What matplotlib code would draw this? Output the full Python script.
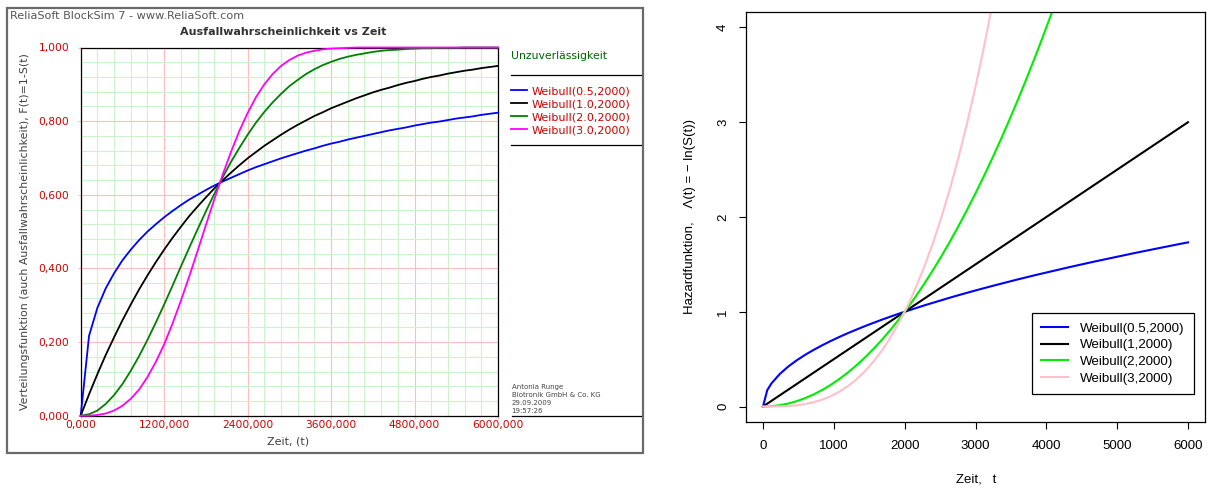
import matplotlib
matplotlib.use("Agg")
import matplotlib.pyplot as plt
from matplotlib.ticker import FixedLocator, FixedFormatter, MultipleLocator
from matplotlib.lines import Line2D
from matplotlib.patches import Rectangle

# ---------------------------------------------------------------------------
# Data
# ---------------------------------------------------------------------------
# time grid for the unreliability panel
t_cdf = [0, 120, 240, 360, 480, 600, 720, 840, 960, 1080, 1200, 1320, 1440,
         1560, 1680, 1800, 1920, 2040, 2160, 2280, 2400, 2520, 2640, 2760,
         2880, 3000, 3120, 3240, 3360, 3480, 3600, 3720, 3840, 3960, 4080,
         4200, 4320, 4440, 4560, 4680, 4800, 4920, 5040, 5160, 5280, 5400,
         5520, 5640, 5760, 5880, 6000]

F_b05 = [0.000, 0.217, 0.293, 0.346, 0.387, 0.422, 0.451, 0.477, 0.500, 0.520,
         0.539, 0.556, 0.572, 0.587, 0.600, 0.613, 0.625, 0.636, 0.646, 0.656,
         0.666, 0.675, 0.683, 0.691, 0.699, 0.706, 0.713, 0.720, 0.726, 0.733,
         0.739, 0.744, 0.750, 0.755, 0.760, 0.765, 0.770, 0.775, 0.779, 0.783,
         0.788, 0.792, 0.796, 0.799, 0.803, 0.807, 0.810, 0.813, 0.817, 0.820,
         0.823]
F_b10 = [0.000, 0.058, 0.113, 0.165, 0.213, 0.259, 0.302, 0.343, 0.381, 0.417,
         0.451, 0.483, 0.513, 0.542, 0.568, 0.593, 0.617, 0.639, 0.660, 0.680,
         0.699, 0.716, 0.733, 0.748, 0.763, 0.777, 0.790, 0.802, 0.814, 0.824,
         0.835, 0.844, 0.853, 0.862, 0.870, 0.878, 0.885, 0.891, 0.898, 0.904,
         0.909, 0.915, 0.920, 0.924, 0.929, 0.933, 0.937, 0.940, 0.944, 0.947,
         0.950]
F_b20 = [0.000, 0.004, 0.014, 0.032, 0.056, 0.086, 0.122, 0.162, 0.206, 0.253,
         0.302, 0.353, 0.405, 0.456, 0.506, 0.555, 0.602, 0.647, 0.689, 0.727,
         0.763, 0.796, 0.825, 0.851, 0.874, 0.895, 0.912, 0.928, 0.941, 0.952,
         0.961, 0.969, 0.975, 0.980, 0.984, 0.988, 0.991, 0.993, 0.994, 0.996,
         0.997, 0.998, 0.998, 0.999, 0.999, 0.999, 1.000, 1.000, 1.000, 1.000,
         1.000]
F_b30 = [0.000, 0.000, 0.002, 0.006, 0.014, 0.027, 0.046, 0.071, 0.105, 0.146,
         0.194, 0.250, 0.312, 0.378, 0.447, 0.518, 0.587, 0.654, 0.716, 0.773,
         0.822, 0.865, 0.900, 0.928, 0.950, 0.966, 0.978, 0.986, 0.991, 0.995,
         0.997, 0.998, 0.999, 1.000, 1.000, 1.000, 1.000, 1.000, 1.000, 1.000,
         1.000, 1.000, 1.000, 1.000, 1.000, 1.000, 1.000, 1.000, 1.000, 1.000,
         1.000]

cdf_labels = ["Weibull(0.5,2000)", "Weibull(1.0,2000)",
              "Weibull(2.0,2000)", "Weibull(3.0,2000)"]
cdf_xticks = [0, 1200, 2400, 3600, 4800, 6000]
cdf_xticklabels = ["0,000", "1200,000", "2400,000", "3600,000", "4800,000", "6000,000"]
cdf_yticks = [0.0, 0.2, 0.4, 0.6, 0.8, 1.0]
cdf_yticklabels = ["0,000", "0,200", "0,400", "0,600", "0,800", "1,000"]

# time grid for the cumulative hazard panel
t_haz = [0, 60, 120, 240, 360, 480, 600, 720, 840, 960, 1080, 1200, 1320,
         1440, 1560, 1680, 1800, 1920, 2040, 2160, 2280, 2400, 2520, 2640,
         2760, 2880, 3000, 3120, 3240, 3360, 3480, 3600, 3720, 3840, 3960,
         4080, 4200, 4320, 4440, 4560, 4680, 4800, 4920, 5040, 5160, 5280,
         5400, 5520, 5640, 5760, 5880, 6000]

H_b05 = [0.000, 0.173, 0.245, 0.346, 0.424, 0.490, 0.548, 0.600, 0.648, 0.693,
         0.735, 0.775, 0.812, 0.849, 0.883, 0.917, 0.949, 0.980, 1.010, 1.039,
         1.068, 1.095, 1.122, 1.149, 1.175, 1.200, 1.225, 1.249, 1.273, 1.296,
         1.319, 1.342, 1.364, 1.386, 1.407, 1.428, 1.449, 1.470, 1.490, 1.510,
         1.530, 1.549, 1.568, 1.587, 1.606, 1.625, 1.643, 1.661, 1.679, 1.697,
         1.715, 1.732]
H_b1 = [0.00, 0.03, 0.06, 0.12, 0.18, 0.24, 0.30, 0.36, 0.42, 0.48, 0.54, 0.60,
        0.66, 0.72, 0.78, 0.84, 0.90, 0.96, 1.02, 1.08, 1.14, 1.20, 1.26, 1.32,
        1.38, 1.44, 1.50, 1.56, 1.62, 1.68, 1.74, 1.80, 1.86, 1.92, 1.98, 2.04,
        2.10, 2.16, 2.22, 2.28, 2.34, 2.40, 2.46, 2.52, 2.58, 2.64, 2.70, 2.76,
        2.82, 2.88, 2.94, 3.00]
H_b2 = [0.0000, 0.0009, 0.0036, 0.0144, 0.0324, 0.0576, 0.0900, 0.1296, 0.1764,
        0.2304, 0.2916, 0.3600, 0.4356, 0.5184, 0.6084, 0.7056, 0.8100, 0.9216,
        1.0404, 1.1664, 1.2996, 1.4400, 1.5876, 1.7424, 1.9044, 2.0736, 2.2500,
        2.4336, 2.6244, 2.8224, 3.0276, 3.2400, 3.4596, 3.6864, 3.9204, 4.1616,
        4.4100, 4.6656, 4.9284, 5.1984, 5.4756, 5.7600, 6.0516, 6.3504, 6.6564,
        6.9696, 7.2900, 7.6176, 7.9524, 8.2944, 8.6436, 9.0000]
H_b3 = [0.0000, 0.0000, 0.0002, 0.0017, 0.0058, 0.0138, 0.0270, 0.0467, 0.0741,
        0.1106, 0.1575, 0.2160, 0.2875, 0.3732, 0.4746, 0.5927, 0.7290, 0.8847,
        1.0612, 1.2597, 1.4815, 1.7280, 2.0004, 2.3000, 2.6281, 2.9860, 3.3750,
        3.7964, 4.2515, 4.7416, 5.2680, 5.8320, 6.4349, 7.0779, 7.7624, 8.4897,
        9.2610, 10.0777, 10.9410, 11.8524, 12.8129, 13.8240, 14.8869, 16.0030,
        17.1735, 18.3997, 19.6830, 21.0246, 22.4258, 23.8879, 25.4122, 27.0000]

haz_labels = ["Weibull(0.5,2000)", "Weibull(1,2000)",
              "Weibull(2,2000)", "Weibull(3,2000)"]
haz_xticks = [0, 1000, 2000, 3000, 4000, 5000, 6000]
haz_yticks = [0, 1, 2, 3, 4]

# ---------------------------------------------------------------------------
# Figure
# ---------------------------------------------------------------------------
W, H = 1207, 488
fig = plt.figure(figsize=(W / 100, H / 100), dpi=100)
fig.patch.set_facecolor("white")


def fx(px):
    return px / W


def fy(py):
    return 1 - py / H


# ----- left panel: unreliability (ReliaSoft style) -------------------------
plt.rcParams["font.family"] = ["DejaVu Sans"]
red_txt = "#d00000"
dark_txt = "#404040"

# outer frame of the report panel
fig.add_artist(Rectangle((fx(7), fy(453)), fx(643) - fx(7), fy(8) - fy(453),
                         transform=fig.transFigure, fill=False,
                         edgecolor="#6a6a6a", linewidth=1.6))

ax1 = fig.add_axes([fx(80.7), fy(415.7), fx(498) - fx(80.7), fy(47.5) - fy(415.7)])
ax1.set_xlim(0, 6000)
ax1.set_ylim(0, 1)
ax1.xaxis.set_major_locator(FixedLocator(cdf_xticks))
ax1.xaxis.set_major_formatter(FixedFormatter(cdf_xticklabels))
ax1.yaxis.set_major_locator(FixedLocator(cdf_yticks))
ax1.yaxis.set_major_formatter(FixedFormatter(cdf_yticklabels))
ax1.xaxis.set_minor_locator(MultipleLocator(240))
ax1.yaxis.set_minor_locator(MultipleLocator(0.04))
ax1.set_axisbelow(True)
ax1.grid(which="minor", color="#ccf3cc", linewidth=0.8)
ax1.grid(which="major", color="#ffbdbd", linewidth=0.8)
ax1.tick_params(which="minor", length=0)
ax1.tick_params(axis="x", which="major", length=2.2, color="#ffbdbd",
                labelcolor=red_txt, labelsize=7.7, pad=1.2)
ax1.tick_params(axis="y", which="major", length=2.2, color="#ffbdbd",
                labelcolor=red_txt, labelsize=7.7, pad=6.0)
for s in ax1.spines.values():
    s.set_color("black")
    s.set_linewidth(0.9)

cdf_series = [F_b05, F_b10, F_b20, F_b30]
cdf_colors = ["#0000ff", "#000000", "#008000", "#ff00ff"]
for vals, col in zip(cdf_series, cdf_colors):
    ax1.plot(t_cdf, vals, color=col, linewidth=1.3, clip_on=False, zorder=3)

fig.text(fx(10), fy(16), "ReliaSoft BlockSim 7 - www.ReliaSoft.com",
         fontsize=8.1, color="#555555", ha="left", va="center")
fig.text(fx(283), fy(32), "Ausfallwahrscheinlichkeit vs Zeit",
         fontsize=8.0, fontweight="bold", color="#333333", ha="center", va="center")
fig.text(fx(25), fy(231.5),
         "Verteilungsfunktion (auch Ausfallwahrscheinlichkeit), F(t)=1-S(t)",
         fontsize=7.9, color=dark_txt, rotation=90, ha="center", va="center")
fig.text(fx(288), fy(441), "Zeit, (t)", fontsize=8.0, color=dark_txt,
         ha="center", va="center")

# side legend
fig.text(fx(511.5), fy(56), "Unzuverlässigkeit", fontsize=7.8, color="#006400",
         ha="left", va="center")
fig.add_artist(Line2D([fx(511), fx(641)], [fy(75), fy(75)],
                      color="black", linewidth=0.9))
for i, (lab, col) in enumerate(zip(cdf_labels, cdf_colors)):
    yy = 90 + i * 13.1
    fig.add_artist(Line2D([fx(511), fx(527)], [fy(yy), fy(yy)],
                          color=col, linewidth=1.3))
    fig.text(fx(531.5), fy(yy + 1.2), lab, fontsize=8.0, color=red_txt,
             ha="left", va="center")
fig.add_artist(Line2D([fx(511), fx(641)], [fy(145), fy(145)],
                      color="black", linewidth=0.9))

footer = ["Antonia Runge", "Biotronik GmbH & Co. KG", "29.09.2009", "19:57:26"]
for i, line in enumerate(footer):
    fig.text(fx(511.5), fy(386.7 + i * 8.2), line, fontsize=5.0,
             color="#444444", ha="left", va="center")
fig.add_artist(Line2D([fx(511.5), fx(641)], [fy(416), fy(416)],
                      color="black", linewidth=0.9))

# ----- right panel: cumulative hazard (R style) ----------------------------
rfont = "Liberation Sans"
ax2 = fig.add_axes([fx(746), fy(421.7), fx(1205) - fx(746), fy(12.3) - fy(421.7)])
ax2.set_xlim(-240, 6240)
ax2.set_ylim(-0.16, 4.16)
ax2.set_xticks(haz_xticks)
ax2.set_yticks(haz_yticks)
ax2.set_xticklabels([str(v) for v in haz_xticks], fontfamily=rfont, fontsize=9.5)
ax2.set_yticklabels([str(v) for v in haz_yticks], fontfamily=rfont, fontsize=9.5,
                    rotation=90, va="center", ha="right")
ax2.tick_params(axis="both", length=5.2, width=0.8, color="black")
ax2.tick_params(axis="x", pad=8.0)
ax2.tick_params(axis="y", pad=7.0)
for s in ax2.spines.values():
    s.set_color("black")
    s.set_linewidth(0.9)

haz_series = [H_b05, H_b1, H_b2, H_b3]
haz_colors = ["#0000ff", "#000000", "#00ee00", "#ffc0cb"]
for vals, col, lab in zip(haz_series, haz_colors, haz_labels):
    ax2.plot(t_haz, vals, color=col, linewidth=1.5, label=lab)

leg = ax2.legend(loc="lower right", bbox_to_anchor=(0.976, 0.068),
                 prop={"family": rfont, "size": 9.6}, frameon=True,
                 fancybox=False, edgecolor="black", framealpha=1,
                 borderaxespad=0, borderpad=0.7, labelspacing=0.32,
                 handlelength=2.0, handletextpad=0.9)
leg.get_frame().set_linewidth(0.9)

fig.text(fx(690), fy(217), "Hazardfunktion,    \u039b(t) = \u2212 ln(S(t))",
         fontfamily=rfont, fontsize=9.5, rotation=90, ha="center", va="center")
fig.text(fx(976), fy(480), "Zeit,   t", fontfamily=rfont, fontsize=9.5,
         ha="center", va="center")

fig.savefig("out.png", dpi=100)
